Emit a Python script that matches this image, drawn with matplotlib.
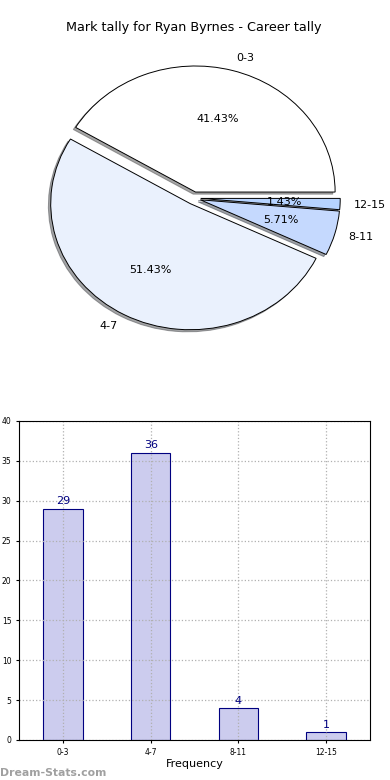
import matplotlib
matplotlib.use('Agg')
import matplotlib.pyplot as plt

# tally data
categories = ['0-3', '4-7', '8-11', '12-15']
counts = [29, 36, 4, 1]
pie_colors = ['#ffffff', '#eaf1fd', '#c5d9fe', '#b6d3ff']
title = 'Mark tally for Ryan Byrnes - Career tally'

fig = plt.figure(figsize=(3.9, 7.8), dpi=100)

# pie
ax1 = fig.add_axes([0.049, 0.544, 0.895, 0.404])
wedges, texts, autotexts = ax1.pie(counts, labels=categories, colors=pie_colors,
                                   explode=[0.05] * len(counts), autopct='%1.2f%%',
                                   shadow={'ox': -0.012, 'oy': -0.012},
                                   startangle=0,
                                   wedgeprops={'edgecolor': 'black', 'linewidth': 0.7},
                                   textprops={'fontsize': 8})
ax1.set_aspect('auto')
ax1.set_xlim(-1.25, 1.25)
ax1.set_ylim(-1.25, 1.25)
ax1.set_title(title, fontsize=9.2, pad=7)

# bars
ax2 = fig.add_axes([0.049, 0.0513, 0.9, 0.409])
x = range(len(categories))
ax2.bar(x, counts, width=0.45, color='#ccccee', edgecolor='#000080', linewidth=0.8)
for xi, c in zip(x, counts):
    ax2.text(xi, c + 0.3, str(c), ha='center', va='bottom', color='#000080', fontsize=8)
ax2.set_xlim(-0.5, 3.5)
ax2.set_ylim(0, 40)
ax2.set_yticks(range(0, 41, 5))
ax2.set_xticks(list(x))
ax2.set_xticklabels(categories)
ax2.tick_params(labelsize=5.5, length=2)
ax2.grid(True, linestyle=':', color='#b0b0b0', linewidth=0.9)
ax2.set_axisbelow(False)
for sp in ax2.spines.values():
    sp.set_zorder(3)
ax2.set_xlabel('Frequency', fontsize=8, labelpad=2)

fig.text(0.0, 0.005, 'Dream-Stats.com', color='#a0a0a0', fontsize=7.8, fontweight='bold')

plt.savefig('out.png', dpi=100)
